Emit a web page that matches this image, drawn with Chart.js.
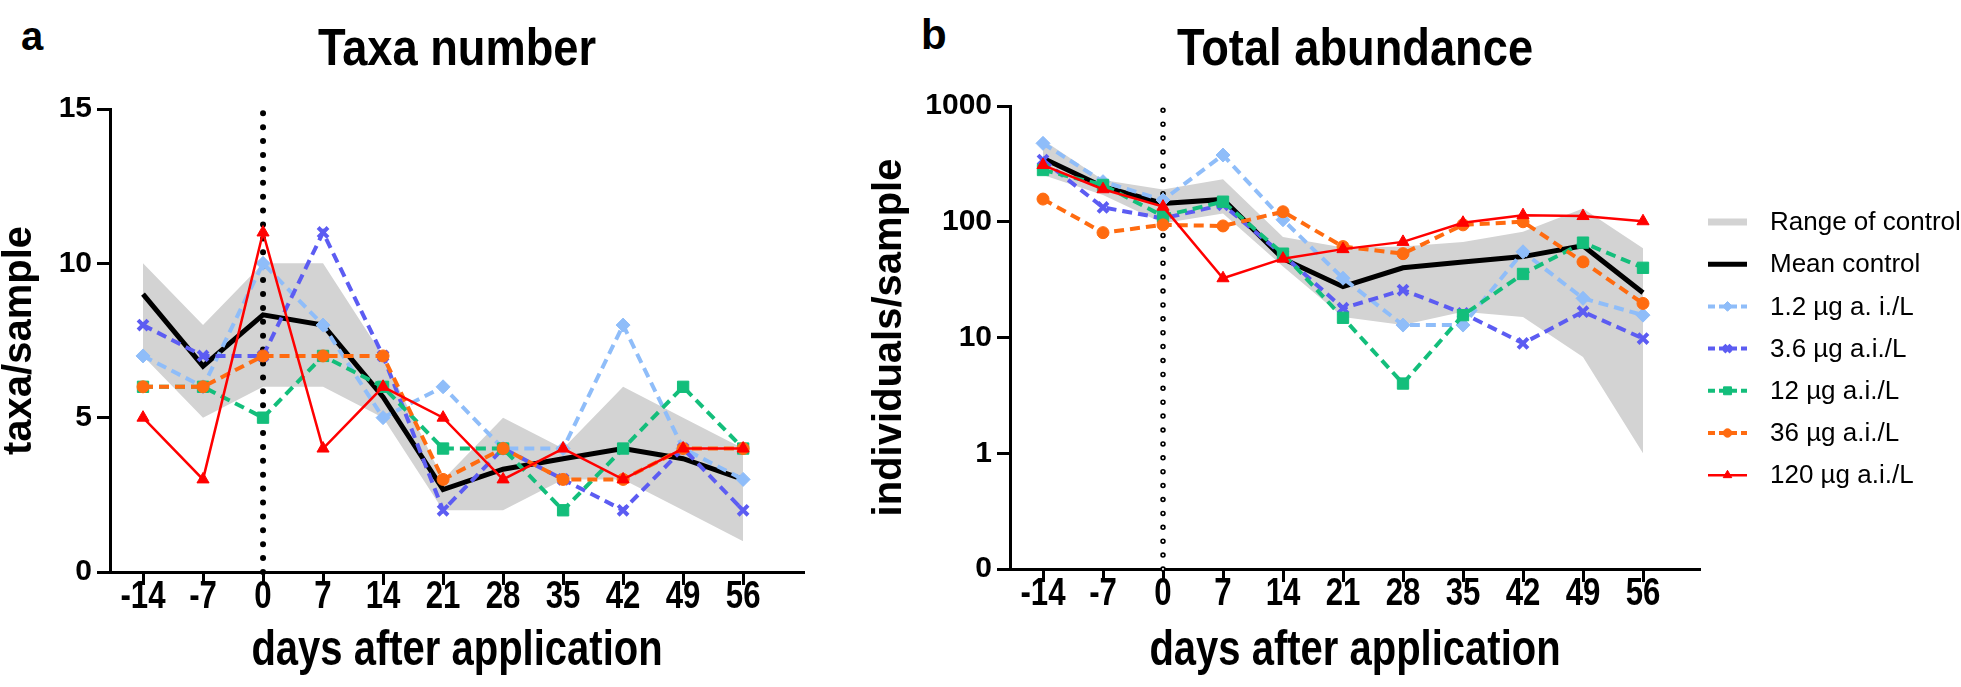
<!DOCTYPE html>
<html>
<head>
<meta charset="utf-8">
<script src="https://cdn.jsdelivr.net/npm/chart.js@4.4.1/dist/chart.umd.min.js"></script>
<style>
  html, body { margin: 0; padding: 0; background: #fff; }
  body { width: 1961px; height: 687px; position: relative; overflow: hidden; }
  .panel { position: absolute; top: 0; }
  .head {
    position: absolute; color: #000; line-height: 1; white-space: nowrap; font-weight: bold;
    font-family: 'Liberation Sans', Arial, sans-serif;
  }
  .title { transform: scaleX(0.87); transform-origin: center; text-align: center; }
</style>
</head>
<body>
<div class="head" style="left:21px;top:16px;font-size:40px">a</div>
<div class="head" style="left:921px;top:14px;font-size:42px">b</div>
<div class="head title" style="left:0;width:914px;top:21px;font-size:52px">Taxa number</div>
<div class="head title" style="left:855px;width:1000px;top:21px;font-size:52px">Total abundance</div>
<canvas id="chartTaxa" class="panel" style="left:0" width="870" height="687"></canvas>
<canvas id="chartAbund" class="panel" style="left:870px" width="1091" height="687"></canvas>
<script>
// jours de prélèvement
const days = [-14, -7, 0, 7, 14, 21, 28, 35, 42, 49, 56];
const applicationDay = 0;

// Taxa number (taxa/sample)
const taxaCtrlMin  = [7, 5, 6, 6, 5, 2, 2, 3, 3, 2, 1];
const taxaCtrlMax  = [10, 8, 10, 10, 7, 3, 5, 4, 6, 5, 4];
const taxaCtrlMean = [9, 6.67, 8.33, 8, 5.67, 2.67, 3.33, 3.67, 4, 3.67, 3];
const taxa_1_2 = [7, 6, 10, 8, 5, 6, 4, 4, 8, 4, 3];
const taxa_3_6 = [8, 7, 7, 11, 7, 2, 4, 3, 2, 4, 2];
const taxa_12  = [6, 6, 5, 7, 6, 4, 4, 2, 4, 6, 4];
const taxa_36  = [6, 6, 7, 7, 7, 3, 4, 3, 3, 4, 4];
const taxa_120 = [5, 3, 11, 4, 6, 5, 3, 4, 3, 4, 4];
const taxaTicks = [0, 5, 10, 15];

// Total abundance (individuals/sample)
const abCtrlMin  = [253, 170, 97, 118, 41, 15, 12.8, 16.7, 15, 6.8, 1];
const abCtrlMax  = [508, 229, 190, 233, 74, 60, 61, 67, 82, 130, 59];
const abCtrlMean = [353, 201, 144, 156, 48, 27.5, 40, 45, 50, 62, 24.4];
const ab_1_2 = [476, 222, 154, 377, 104, 32.5, 12.8, 12.8, 55, 21.8, 15.6];
const ab_3_6 = [341, 133, 107, 140, 51.6, 17.9, 25.7, 16.2, 8.9, 16.7, 9.8];
const ab_12  = [280, 208, 112, 149, 53, 14.8, 4, 15.6, 35.4, 66, 40];
const ab_36  = [157, 80.5, 94, 92, 122, 61, 53, 94, 100, 45, 19.7];
const ab_120 = [309, 191, 135, 32.5, 48, 58, 67, 98, 114, 112, 101];
const abTicks = [0.1, 1, 10, 100, 1000];
const abTickLabels = ['0', '1', '10', '100', '1000'];

// "NarrowX" n'existe pas : sert juste de marqueur pour le texte compressé
const narrow = "NarrowX, 'Liberation Sans', Arial, sans-serif";
const sans = "'Liberation Sans', Arial, sans-serif";
const narrowScale = 0.8;

// styles des traitements
const treatStyles = [
  { label: '1.2 µg a. i./L', color: '#8fbdf9', dash: [10, 6], width: 4, point: 'rectRot', radius: 7, bw: 1 },
  { label: '3.6 µg a.i./L', color: '#5c5cf2', dash: [10, 6], width: 4, point: 'crossRot', radius: 7, bw: 4 },
  { label: '12 µg a.i./L', color: '#13be7b', dash: [10, 6], width: 4, point: 'rect', radius: 8, bw: 1 },
  { label: '36 µg a.i./L', color: '#ff6b10', dash: [10, 6], width: 4, point: 'circle', radius: 6, bw: 1 },
  { label: '120 µg a.i./L', color: '#ff0000', dash: [], width: 2.5, point: 'triangle', radius: 7, bw: 1 }
];

function pts(vals) {
  return days.map((d, i) => ({ x: d, y: vals[i] }));
}

// police étroite : on écrase le texte en largeur
function narrowText(canvas) {
  const ctx = canvas.getContext('2d');
  const orig = ctx.fillText.bind(ctx);
  ctx.fillText = function (text, x, y, maxWidth) {
    if (this.font.indexOf('NarrowX') < 0) return orig(text, x, y, maxWidth);
    this.save();
    this.translate(x, y);
    this.scale(narrowScale, 1);
    orig(text, 0, 0);
    this.restore();
  };
  return canvas;
}

function makeDatasets(minV, maxV, meanV, treatVals, yLow, yHigh, hollow) {
  const sets = [];
  sets.push({ label: 'Range of control', data: pts(maxV), borderWidth: 0, pointRadius: 0,
              backgroundColor: '#d3d3d3', fill: '+1', order: 9, legendColor: '#d3d3d3', legendWidth: 7 });
  sets.push({ label: '', data: pts(minV), borderWidth: 0, pointRadius: 0, fill: false, order: 9 });
  sets.push({ label: 'Mean control', data: pts(meanV), borderColor: '#000', borderWidth: 5,
              pointRadius: 0, fill: false, order: 6 });
  treatStyles.forEach((s, i) => {
    sets.push({
      label: s.label, data: pts(treatVals[i]), borderColor: s.color, backgroundColor: s.color,
      borderWidth: s.width, borderDash: s.dash, pointStyle: s.point, pointRadius: s.radius,
      pointBorderWidth: s.bw, pointBackgroundColor: s.color, pointBorderColor: s.color,
      fill: false, order: 5 - i
    });
  });
  // ligne pointillée du jour d'application
  const line = [{ x: applicationDay, y: yLow }, { x: applicationDay, y: yHigh }];
  sets.push({ label: '', data: line, borderColor: '#000', borderWidth: hollow ? 5.5 : 6,
              borderDash: [0, 13.9], borderCapStyle: 'round', pointRadius: 0, fill: false, order: 8, clip: false });
  if (hollow) {
    sets.push({ label: '', data: line, borderColor: '#fff', borderWidth: 2.2,
                borderDash: [0, 13.9], borderCapStyle: 'round', pointRadius: 0, fill: false, order: 7, clip: false });
  }
  return sets;
}

const tickGrid = { drawOnChartArea: false, drawTicks: true, tickLength: 13, tickWidth: 3, tickColor: '#000' };
const axisBorder = { display: true, color: '#000', width: 3 };

function xScale(xMin, xMax, height) {
  return {
    type: 'linear', min: xMin, max: xMax,
    afterBuildTicks: s => { s.ticks = days.map(v => ({ value: v })); },
    afterFit: s => { s.height = height; },
    ticks: { autoSkip: false, maxRotation: 0, padding: -7, color: '#000',
             font: { family: narrow, size: 39, weight: 'bold', lineHeight: 1 }, callback: v => String(v) },
    grid: tickGrid,
    border: axisBorder,
    title: { display: true, text: 'days after application', color: '#000',
             font: { family: narrow, size: 50, weight: 'bold' }, padding: { top: 0, bottom: 6 } }
  };
}

// légende à droite, dessinée à la main
const sideLegend = {
  id: 'sideLegend',
  afterDraw(chart) {
    const ctx = chart.ctx;
    const x0 = chart.chartArea.right + 8;
    const items = chart.data.datasets.filter(d => d.label);
    items.forEach((d, i) => {
      const y = 222 + i * 42.2;
      ctx.save();
      ctx.strokeStyle = d.legendColor || d.borderColor;
      ctx.lineWidth = d.legendWidth || d.borderWidth;
      ctx.setLineDash(d.borderDash && d.borderDash.length ? [7, 4] : []);
      ctx.beginPath();
      ctx.moveTo(x0, y);
      ctx.lineTo(x0 + 39, y);
      ctx.stroke();
      if (d.pointRadius > 0 && Chart.helpers && Chart.helpers.drawPoint) {
        ctx.setLineDash([]);
        ctx.fillStyle = d.pointBackgroundColor;
        ctx.strokeStyle = d.pointBorderColor;
        ctx.lineWidth = d.pointBorderWidth;
        Chart.helpers.drawPoint(ctx, { pointStyle: d.pointStyle, rotation: 0,
          radius: d.pointRadius * 0.7, borderWidth: d.pointBorderWidth }, x0 + 19.5, y);
      }
      ctx.fillStyle = '#000';
      ctx.font = '26px ' + sans;
      ctx.textBaseline = 'middle';
      ctx.textAlign = 'left';
      ctx.fillText(d.label, x0 + 62, y + 1);
      ctx.restore();
    });
  }
};

new Chart(narrowText(document.getElementById('chartTaxa')), {
  type: 'line',
  data: { datasets: makeDatasets(taxaCtrlMin, taxaCtrlMax, taxaCtrlMean,
          [taxa_1_2, taxa_3_6, taxa_12, taxa_36, taxa_120], 0, 15, false) },
  options: {
    responsive: false, animation: false, devicePixelRatio: 1,
    layout: { padding: { top: 109, right: 66, bottom: 0, left: 0 } },
    plugins: { legend: { display: false }, tooltip: { enabled: false } },
    scales: {
      x: xScale(-17.85, 63.1, 115),
      y: {
        type: 'linear', min: 0, max: 15,
        afterBuildTicks: s => { s.ticks = taxaTicks.map(v => ({ value: v })); },
        afterFit: s => { s.width = 110; },
        ticks: { color: '#000', padding: 5, font: { family: sans, size: 30, weight: 'bold' } },
        grid: tickGrid,
        border: axisBorder,
        title: { display: true, text: 'taxa/sample', color: '#000', padding: 0,
                 font: { family: sans, size: 40, weight: 'bold', lineHeight: 1 } }
      }
    }
  }
});

new Chart(narrowText(document.getElementById('chartAbund')), {
  type: 'line',
  data: { datasets: makeDatasets(abCtrlMin, abCtrlMax, abCtrlMean,
          [ab_1_2, ab_3_6, ab_12, ab_36, ab_120], 0.1, 1000, true) },
  options: {
    responsive: false, animation: false, devicePixelRatio: 1,
    layout: { padding: { top: 106, right: 261, bottom: 0, left: 0 } },
    plugins: { legend: { display: false }, tooltip: { enabled: false } },
    scales: {
      x: xScale(-17.85, 62.65, 118),
      y: {
        type: 'logarithmic', min: 0.1, max: 1000,
        afterBuildTicks: s => { s.ticks = abTicks.map(v => ({ value: v })); },
        afterFit: s => { s.width = 140; },
        ticks: { color: '#000', padding: 5, font: { family: sans, size: 30, weight: 'bold' },
                 callback: (v, i) => abTickLabels[i] },
        grid: tickGrid,
        border: axisBorder,
        title: { display: true, text: 'individuals/sample', color: '#000', padding: 0,
                 font: { family: sans, size: 40, weight: 'bold', lineHeight: 1 } }
      }
    }
  },
  plugins: [sideLegend]
});
</script>
</body>
</html>
